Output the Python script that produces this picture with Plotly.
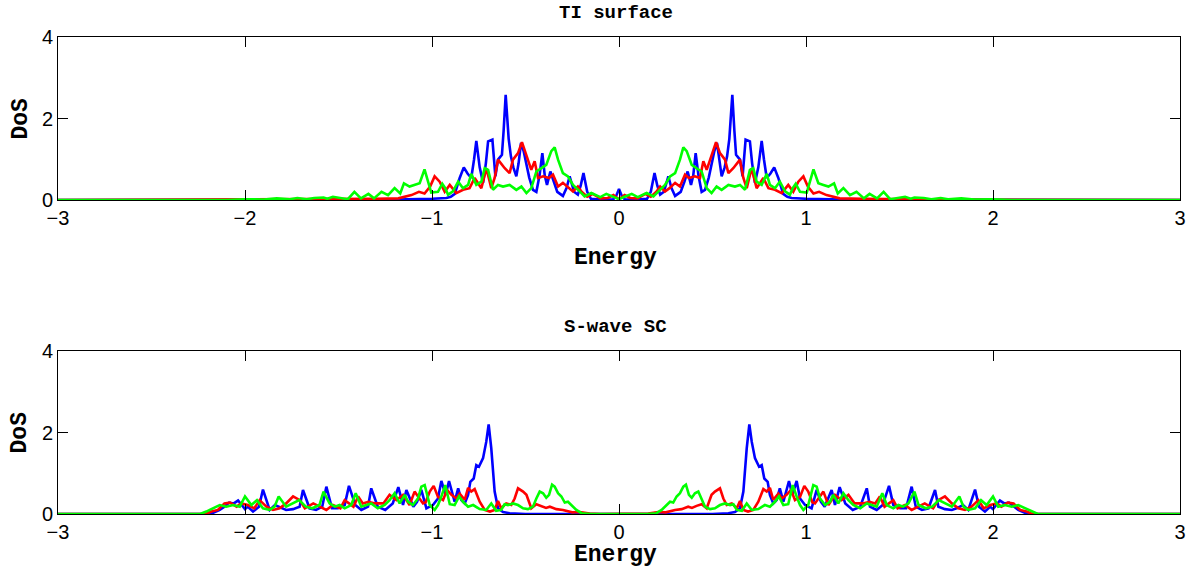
import plotly.graph_objects as go

# ---- data (values read for E >= 0; the DoS curves are mirror-symmetric about E = 0) ----
# Top panel: TI surface
top_blue_E = [0.0, 0.015, 0.03, 0.1, 0.15, 0.17, 0.19, 0.205, 0.22, 0.24, 0.264, 0.28, 0.30, 0.33, 0.35, 0.367, 0.385, 0.397, 0.41, 0.425, 0.442, 0.46, 0.48, 0.495, 0.51, 0.524, 0.537, 0.549, 0.565, 0.578, 0.59, 0.606, 0.617, 0.626, 0.647, 0.661, 0.677, 0.70, 0.712, 0.727, 0.745, 0.763, 0.775, 0.79, 0.81, 0.83, 0.852, 0.878, 0.90, 0.923, 1.0, 1.2, 3.0]
top_blue_V = [0.27, 0.1, 0.02, 0.01, 0.03, 0.2, 0.66, 0.35, 0.13, 0.2, 0.58, 0.3, 0.1, 0.2, 0.45, 0.70, 0.37, 0.6, 1.15, 0.6, 0.2, 0.25, 0.55, 0.91, 1.2, 1.40, 0.9, 0.58, 0.8, 1.07, 1.5, 2.58, 1.7, 1.11, 0.99, 0.58, 1.48, 1.44, 0.9, 0.42, 0.8, 1.45, 1.0, 0.54, 0.65, 0.80, 0.54, 0.15, 0.08, 0.05, 0.03, 0.01, 0.0]

top_red_E = [0.0, 0.03, 0.06, 0.1, 0.14, 0.17, 0.2, 0.22, 0.246, 0.27, 0.30, 0.326, 0.353, 0.374, 0.406, 0.433, 0.451, 0.469, 0.495, 0.519, 0.54, 0.567, 0.585, 0.611, 0.647, 0.665, 0.683, 0.709, 0.736, 0.772, 0.799, 0.834, 0.87, 0.905, 0.932, 0.959, 0.986, 1.01, 1.04, 1.07, 1.11, 1.146, 1.18, 1.3, 1.5, 1.7, 3.0]
top_red_V = [0.02, 0.12, 0.05, 0.04, 0.15, 0.08, 0.2, 0.33, 0.21, 0.29, 0.42, 0.33, 0.62, 0.54, 0.58, 0.54, 0.95, 0.74, 1.07, 1.42, 1.15, 0.99, 0.66, 0.78, 0.99, 0.54, 0.29, 0.78, 0.29, 0.54, 0.29, 0.25, 0.17, 0.37, 0.2, 0.45, 0.58, 0.33, 0.16, 0.2, 0.12, 0.08, 0.04, 0.03, 0.02, 0.01, 0.0]

top_green_E = [0.0, 0.03, 0.068, 0.10, 0.148, 0.184, 0.21, 0.246, 0.273, 0.30, 0.326, 0.344, 0.362, 0.389, 0.415, 0.442, 0.469, 0.495, 0.522, 0.549, 0.585, 0.62, 0.647, 0.674, 0.70, 0.718, 0.736, 0.763, 0.79, 0.807, 0.834, 0.86, 0.888, 0.914, 0.93, 0.945, 0.968, 1.004, 1.04, 1.066, 1.093, 1.12, 1.15, 1.17, 1.2, 1.235, 1.27, 1.31, 1.34, 1.38, 1.415, 1.45, 1.53, 1.56, 1.58, 1.63, 1.67, 1.72, 1.76, 1.83, 1.9, 2.0, 2.1, 3.0]
top_green_V = [0.02, 0.08, 0.15, 0.07, 0.17, 0.09, 0.21, 0.37, 0.58, 0.66, 0.99, 1.29, 1.20, 0.86, 0.78, 0.70, 0.29, 0.17, 0.33, 0.25, 0.37, 0.33, 0.37, 0.25, 0.74, 0.78, 0.45, 0.37, 0.64, 0.37, 0.29, 0.45, 0.21, 0.13, 0.3, 0.4, 0.2, 0.18, 0.75, 0.41, 0.37, 0.33, 0.41, 0.16, 0.29, 0.12, 0.2, 0.04, 0.15, 0.04, 0.2, 0.02, 0.08, 0.03, 0.06, 0.05, 0.02, 0.05, 0.02, 0.04, 0.01, 0.02, 0.0, 0.0]

# Bottom panel: S-wave SC
bot_blue_E = [0.0, 0.5, 0.585, 0.62, 0.647, 0.665, 0.683, 0.697, 0.71, 0.727, 0.749, 0.763, 0.777, 0.795, 0.807, 0.825, 0.843, 0.86, 0.879, 0.909, 0.927, 0.95, 0.968, 0.995, 1.03, 1.057, 1.08, 1.10, 1.137, 1.155, 1.18, 1.21, 1.25, 1.29, 1.325, 1.342, 1.378, 1.41, 1.444, 1.467, 1.503, 1.535, 1.565, 1.587, 1.62, 1.655, 1.69, 1.708, 1.743, 1.78, 1.805, 1.84, 1.868, 1.904, 1.925, 1.957, 1.985, 2.0, 2.037, 2.06, 2.085, 2.11, 2.135, 2.17, 2.2, 3.0]
bot_blue_V = [0.0, 0.0, 0.02, 0.05, 0.14, 0.55, 1.61, 2.20, 1.77, 1.37, 1.16, 1.20, 0.87, 0.79, 0.47, 0.26, 0.34, 0.63, 0.30, 0.81, 0.47, 0.81, 0.38, 0.22, 0.14, 0.59, 0.30, 0.18, 0.59, 0.22, 0.66, 0.26, 0.10, 0.18, 0.63, 0.18, 0.10, 0.22, 0.69, 0.22, 0.14, 0.14, 0.67, 0.18, 0.10, 0.14, 0.59, 0.18, 0.12, 0.10, 0.14, 0.22, 0.10, 0.60, 0.18, 0.06, 0.18, 0.12, 0.33, 0.26, 0.28, 0.18, 0.10, 0.03, 0.0, 0.0]

bot_red_E = [0.0, 0.1, 0.157, 0.21, 0.25, 0.30, 0.335, 0.37, 0.39, 0.415, 0.442, 0.469, 0.495, 0.513, 0.54, 0.558, 0.576, 0.603, 0.63, 0.647, 0.665, 0.69, 0.718, 0.745, 0.772, 0.79, 0.807, 0.825, 0.852, 0.87, 0.896, 0.92, 0.941, 0.968, 0.991, 1.012, 1.034, 1.048, 1.07, 1.093, 1.12, 1.155, 1.19, 1.227, 1.26, 1.305, 1.34, 1.37, 1.395, 1.42, 1.467, 1.49, 1.53, 1.565, 1.6, 1.635, 1.68, 1.707, 1.743, 1.78, 1.815, 1.85, 1.885, 1.922, 1.95, 1.985, 2.02, 2.045, 2.08, 2.11, 2.145, 2.18, 2.21, 3.0]
bot_red_V = [0.0, 0.0, 0.01, 0.05, 0.04, 0.10, 0.12, 0.18, 0.15, 0.20, 0.24, 0.14, 0.47, 0.55, 0.63, 0.38, 0.22, 0.26, 0.14, 0.32, 0.10, 0.06, 0.10, 0.30, 0.61, 0.55, 0.64, 0.35, 0.50, 0.38, 0.47, 0.59, 0.34, 0.42, 0.69, 0.55, 0.29, 0.26, 0.4, 0.55, 0.22, 0.47, 0.34, 0.47, 0.26, 0.26, 0.30, 0.26, 0.43, 0.18, 0.34, 0.14, 0.22, 0.10, 0.18, 0.26, 0.14, 0.34, 0.43, 0.26, 0.14, 0.10, 0.18, 0.34, 0.14, 0.22, 0.26, 0.18, 0.28, 0.26, 0.10, 0.06, 0.0, 0.0]

bot_green_E = [0.0, 0.15, 0.2, 0.228, 0.255, 0.273, 0.29, 0.308, 0.326, 0.344, 0.358, 0.374, 0.389, 0.406, 0.424, 0.442, 0.46, 0.487, 0.513, 0.54, 0.567, 0.594, 0.612, 0.63, 0.657, 0.683, 0.71, 0.745, 0.78, 0.807, 0.834, 0.855, 0.879, 0.905, 0.929, 0.95, 0.968, 0.986, 1.012, 1.039, 1.057, 1.075, 1.102, 1.128, 1.146, 1.173, 1.2, 1.227, 1.253, 1.29, 1.325, 1.351, 1.378, 1.408, 1.432, 1.467, 1.494, 1.52, 1.548, 1.58, 1.602, 1.64, 1.675, 1.71, 1.745, 1.78, 1.82, 1.842, 1.868, 1.904, 1.936, 1.966, 2.0, 2.028, 2.063, 2.1, 2.135, 2.17, 2.207, 2.24, 3.0]
bot_green_V = [0.0, 0.0, 0.02, 0.10, 0.22, 0.30, 0.28, 0.43, 0.51, 0.67, 0.72, 0.47, 0.40, 0.51, 0.55, 0.38, 0.18, 0.12, 0.14, 0.22, 0.26, 0.22, 0.24, 0.10, 0.08, 0.26, 0.10, 0.12, 0.22, 0.18, 0.30, 0.43, 0.22, 0.24, 0.71, 0.43, 0.22, 0.10, 0.22, 0.71, 0.67, 0.38, 0.22, 0.30, 0.47, 0.26, 0.51, 0.34, 0.22, 0.14, 0.26, 0.22, 0.18, 0.51, 0.22, 0.14, 0.22, 0.18, 0.26, 0.55, 0.22, 0.14, 0.18, 0.34, 0.26, 0.18, 0.43, 0.18, 0.10, 0.14, 0.34, 0.22, 0.43, 0.18, 0.22, 0.18, 0.22, 0.14, 0.06, 0.0, 0.0]

x_ticks = [-3, -2, -1, 0, 1, 2, 3]
y_ticks = [0, 2, 4]
panel_titles = ["TI surface", "S-wave SC"]
x_label = "Energy"
y_label = "DoS"


def full(E, V):
    """Build the full symmetric curve from its E >= 0 half."""
    xs = [-e for e in reversed(E)] + list(E[1:] if E[0] == 0 else E)
    ys = list(reversed(V)) + list(V[1:] if E[0] == 0 else V)
    return xs, ys


BLUE, RED, GREEN = "#0000ff", "#ff0000", "#00ff00"
LW = 2.6

fig = go.Figure()
panels = [
    ("x", "y", [(top_blue_E, top_blue_V, BLUE), (top_red_E, top_red_V, RED), (top_green_E, top_green_V, GREEN)]),
    ("x2", "y2", [(bot_blue_E, bot_blue_V, BLUE), (bot_red_E, bot_red_V, RED), (bot_green_E, bot_green_V, GREEN)]),
]
for xa, ya, series in panels:
    for E, V, col in series:
        xs, ys = full(E, V)
        fig.add_trace(go.Scatter(x=xs, y=ys, mode="lines", xaxis=xa, yaxis=ya,
                                 line=dict(color=col, width=LW), showlegend=False,
                                 hoverinfo="skip"))

TICKFONT = dict(family="Liberation Sans, Arial, sans-serif", size=20, color="black")
TITLEFONT = dict(family="Liberation Mono, monospace", size=19, color="black")
LABFONT = dict(family="Liberation Mono, monospace", size=23, color="black")

ax_common = dict(showline=True, linecolor="black", linewidth=1, mirror="ticks",
                 ticks="inside", ticklen=10, tickcolor="black", tickwidth=1,
                 showgrid=False, zeroline=False, tickfont=TICKFONT)

fig.update_layout(
    width=1201, height=569,
    margin=dict(l=58, r=21, t=37, b=55),
    paper_bgcolor="white", plot_bgcolor="white",
    xaxis=dict(domain=[0, 1], anchor="y", range=[-3, 3], tickvals=x_ticks, **ax_common),
    yaxis=dict(domain=[0.6583, 1.0], anchor="x", range=[0, 4], tickvals=y_ticks, **ax_common),
    xaxis2=dict(domain=[0, 1], anchor="y2", range=[-3, 3], tickvals=x_ticks, **ax_common),
    yaxis2=dict(domain=[0.0, 0.3417], anchor="x2", range=[0, 4], tickvals=y_ticks, **ax_common),
)

ann = []
for ytitle, ylab, ydos, txt in [(1.0503, 0.5367, 0.8291, panel_titles[0]),
                                 (0.392, -0.086, 0.1709, panel_titles[1])]:
    ann.append(dict(text="<b>%s</b>" % txt, xref="paper", yref="paper", x=0.4973, y=ytitle,
                    xanchor="center", yanchor="middle", showarrow=False, font=TITLEFONT))
    ann.append(dict(text="<b>%s</b>" % x_label, xref="paper", yref="paper", x=0.4973, y=ylab,
                    xanchor="center", yanchor="middle", showarrow=False, font=LABFONT))
    ann.append(dict(text="<b>%s</b>" % y_label, xref="paper", yref="paper", x=-0.033, y=ydos,
                    xanchor="center", yanchor="middle", showarrow=False, font=LABFONT,
                    textangle=-90))
fig.update_layout(annotations=ann)

fig.write_html("out.html")
